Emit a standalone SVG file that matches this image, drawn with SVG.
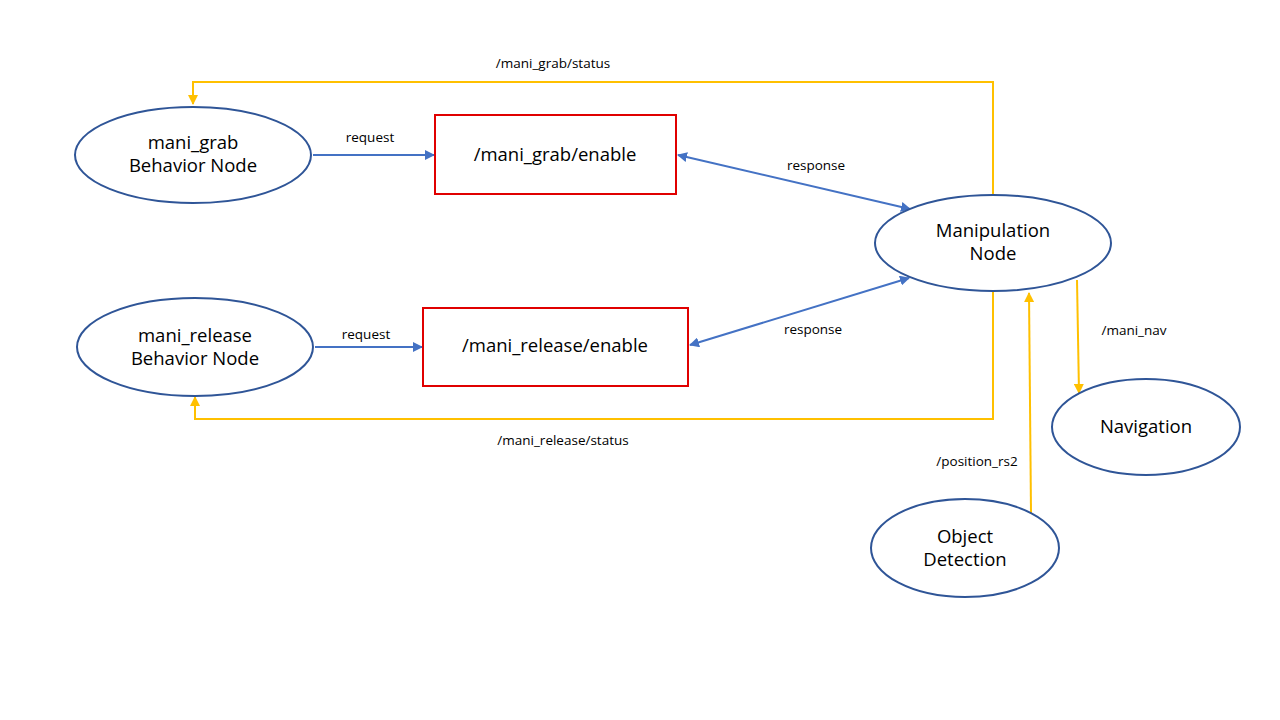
<svg xmlns="http://www.w3.org/2000/svg" width="1280" height="720" viewBox="0 0 1280 720">
<style>
.node{fill:#fff;stroke:#2F5597;stroke-width:2}
.box{fill:#fff;stroke:#E00000;stroke-width:2}
.nt{font-family:"Open Sans","Liberation Sans",sans-serif;font-size:18.5px;fill:#000;text-anchor:middle}
.lbl{font-family:"Open Sans","Liberation Sans",sans-serif;font-size:13.5px;fill:#000;text-anchor:middle}
.blue{fill:none;stroke:#4472C4;stroke-width:2}
.yel{fill:none;stroke:#FFC000;stroke-width:2}
</style>
<defs>
<marker id="ab" viewBox="0 0 10 10" refX="9" refY="5" markerWidth="5" markerHeight="5" orient="auto-start-reverse"><path d="M0,0 L10,5 L0,10 z" fill="#4472C4"/></marker>
<marker id="ay" viewBox="0 0 10 10" refX="9" refY="5" markerWidth="5" markerHeight="5" orient="auto-start-reverse"><path d="M0,0 L10,5 L0,10 z" fill="#FFC000"/></marker>
</defs>
<rect width="1280" height="720" fill="#fff"/>
<g id="connectors">
<line class="blue" x1="313" y1="155" x2="434" y2="155" marker-end="url(#ab)"/>
<line class="blue" x1="678" y1="155" x2="910" y2="209" marker-start="url(#ab)" marker-end="url(#ab)"/>
<line class="blue" x1="315" y1="347" x2="422" y2="347" marker-end="url(#ab)"/>
<line class="blue" x1="690" y1="345" x2="909" y2="278" marker-start="url(#ab)" marker-end="url(#ab)"/>
<polyline class="yel" points="993,195 993,82 193,82 193,104" marker-end="url(#ay)"/>
<polyline class="yel" points="993,292 993,419 195,419 195,397" marker-end="url(#ay)"/>
<line class="yel" x1="1077" y1="280" x2="1079" y2="393" marker-end="url(#ay)"/>
<line class="yel" x1="1031" y1="513" x2="1029" y2="293" marker-end="url(#ay)"/>
<text class="lbl" x="553" y="68">/mani_grab/status</text>
<text class="lbl" x="370" y="142">request</text>
<text class="lbl" x="816" y="170">response</text>
<text class="lbl" x="813" y="334">response</text>
<text class="lbl" x="366" y="339">request</text>
<text class="lbl" x="563" y="445">/mani_release/status</text>
<text class="lbl" x="1134" y="335">/mani_nav</text>
<text class="lbl" x="977" y="466">/position_rs2</text>
</g>
<g id="mani_grab">
<ellipse class="node" cx="193" cy="155" rx="118" ry="48"/>
<text class="nt" x="193" y="149">mani_grab</text>
<text class="nt" x="193" y="172">Behavior Node</text>
</g>
<g id="mani_release">
<ellipse class="node" cx="195" cy="347" rx="118" ry="49"/>
<text class="nt" x="195" y="342">mani_release</text>
<text class="nt" x="195" y="365">Behavior Node</text>
</g>
<g id="grab_enable">
<rect class="box" x="435" y="115" width="241" height="79"/>
<text class="nt" x="555" y="161">/mani_grab/enable</text>
</g>
<g id="release_enable">
<rect class="box" x="423" y="308" width="265" height="78"/>
<text class="nt" x="555" y="352">/mani_release/enable</text>
</g>
<g id="manipulation">
<ellipse class="node" cx="993" cy="243" rx="118" ry="48"/>
<text class="nt" x="993" y="237">Manipulation</text>
<text class="nt" x="993" y="260">Node</text>
</g>
<g id="navigation">
<ellipse class="node" cx="1146" cy="427" rx="94" ry="48"/>
<text class="nt" x="1146" y="433">Navigation</text>
</g>
<g id="object_detection">
<ellipse class="node" cx="965" cy="548" rx="94" ry="49"/>
<text class="nt" x="965" y="543">Object</text>
<text class="nt" x="965" y="566">Detection</text>
</g>
</svg>
